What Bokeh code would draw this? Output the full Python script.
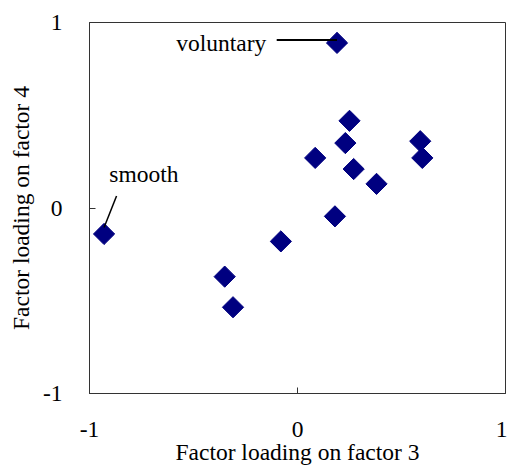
import math
from bokeh.plotting import figure
from bokeh.models import Range1d, FixedTicker
from bokeh.core.properties import value
from bokeh.embed import file_html
from bokeh.resources import INLINE

# Data: factor loadings (factor 3 on x, factor 4 on y)
factor3 = [0.19, 0.25, 0.23, 0.085, 0.27, 0.38, 0.59, 0.60, 0.18, -0.08, -0.93, -0.35, -0.31]
factor4 = [0.89, 0.47, 0.35, 0.27, 0.21, 0.13, 0.36, 0.27, -0.045, -0.18, -0.14, -0.37, -0.535]
ticks = [-1, 0, 1]
tick_labels = ["-1", "0", "1"]
x_title = "Factor loading on factor 3"
y_title = "Factor loading on factor 4"
labelled_names = ["voluntary", "smooth"]
labelled_index = [0, 10]

FONT = "Liberation Serif"
FS = "23.5px"

p = figure(width=507, height=468, output_backend="svg", toolbar_location=None,
           x_range=Range1d(-1, 1), y_range=Range1d(-1, 1),
           min_border_left=89, min_border_right=2, min_border_top=22, min_border_bottom=75)
p.grid.visible = False
p.outline_line_color = "#333333"
p.outline_line_width = 1
p.background_fill_color = "white"
p.border_fill_color = "white"

for ax in (p.xaxis[0], p.yaxis[0]):
    ax.ticker = FixedTicker(ticks=ticks)
    ax.major_label_overrides = {t: s for t, s in zip(ticks, tick_labels)}
    ax.major_tick_in = 6
    ax.major_tick_out = 0
    ax.minor_tick_in = 0
    ax.minor_tick_out = 0
    ax.axis_line_color = "#333333"
    ax.major_tick_line_color = "#333333"
    ax.major_label_text_font = FONT
    ax.major_label_text_font_size = FS
    ax.major_label_text_color = "black"
    ax.axis_label_text_font = FONT
    ax.axis_label_text_font_size = FS
    ax.axis_label_text_font_style = "normal"
    ax.axis_label_text_color = "black"

p.xaxis.axis_label = x_title
p.yaxis.axis_label = y_title
p.xaxis.major_label_standoff = 28
p.xaxis.axis_label_standoff = -1
p.yaxis.major_label_standoff = 27
p.yaxis.axis_label_standoff = 6

p.scatter(factor3, factor4, marker="square", size=15, angle=math.pi / 4,
          fill_color="#000080", line_color="#000080")

# annotations
vi = labelled_index[0]
vx, vy = factor3[vi], factor4[vi]
p.segment(x0=[vx - 0.29], y0=[vy + 0.015], x1=[vx], y1=[vy + 0.015],
          line_color="black", line_width=2)
p.text(x=[vx - 0.34], y=[vy], text=[labelled_names[0]], text_align="right",
       text_baseline="middle", text_font=value(FONT), text_font_size=FS,
       text_color="black")

si = labelled_index[1]
sx, sy = factor3[si], factor4[si]
p.segment(x0=[sx], y0=[sy + 0.035], x1=[sx + 0.06], y1=[sy + 0.205],
          line_color="black", line_width=1.5)
p.text(x=[sx + 0.025], y=[sy + 0.325], text=[labelled_names[1]], text_align="left",
       text_baseline="middle", text_font=value(FONT), text_font_size=FS,
       text_color="black")

open("out.html", "w").write(file_html(p, INLINE))
